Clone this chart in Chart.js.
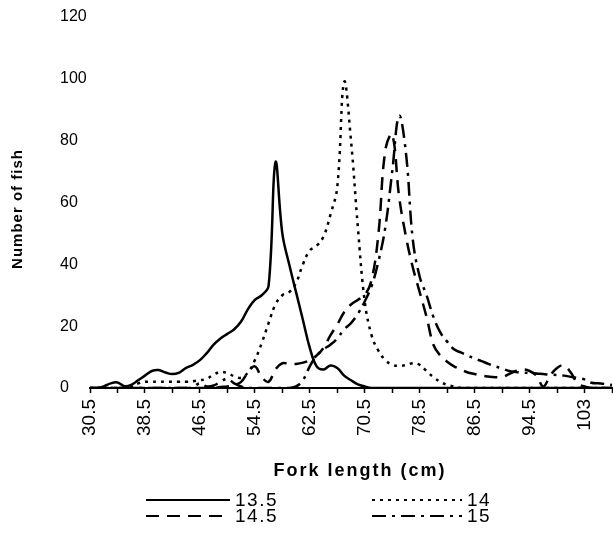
<!DOCTYPE html>
<html>
<head>
<meta charset="utf-8">
<script src="https://cdn.jsdelivr.net/npm/chart.js@4.4.1/dist/chart.umd.min.js"></script>
<style>
  html, body { margin: 0; padding: 0; background: #fff; overflow: hidden; }
  #wrap { position: relative; width: 613px; height: 538px; }
</style>
</head>
<body>
<div id="wrap"><canvas id="chart" width="613" height="538"></canvas></div>
<script>
// Fork length classes (cm), one category per centimetre
const forkLength = [
  30.5, 31.5, 32.5, 33.5, 34.5, 35.5, 36.5, 37.5, 38.5, 39.5,
  40.5, 41.5, 42.5, 43.5, 44.5, 45.5, 46.5, 47.5, 48.5, 49.5,
  50.5, 51.5, 52.5, 53.5, 54.5, 55.5, 56.5, 57.5, 58.5, 59.5,
  60.5, 61.5, 62.5, 63.5, 64.5, 65.5, 66.5, 67.5, 68.5, 69.5,
  70.5, 71.5, 72.5, 73.5, 74.5, 75.5, 76.5, 77.5, 78.5, 79.5,
  80.5, 81.5, 82.5, 83.5, 84.5, 85.5, 86.5, 87.5, 88.5, 89.5,
  90.5, 91.5, 92.5, 93.5, 94.5, 95.5, 96.5, 97.5, 98.5, 99.5,
  100.5, 101.5, 102.5, 103.5, 104.5, 105.5, 106.5
];

// Labels printed under the axis (every eighth class)
const axisLabels = ['30.5', '38.5', '46.5', '54.5', '62.5', '70.5', '78.5', '86.5', '94.5', '103'];

// Number of fish per length class
const fish13_5 = [
  0, 0, 0.5, 1.5, 1.8, 0.6, 1, 2.5, 4, 5.5,
  5.8, 5, 4.5, 5, 6.5, 7.5, 9, 11.3, 14, 16,
  17.5, 19, 21.5, 25.5, 28.5, 30, 33, 73, 50, 40,
  31, 22, 13, 7, 6, 7.3, 6.5, 4, 2.5, 1.2,
  0.5, 0, 0, 0, 0, 0, 0, 0, 0, 0,
  0, 0, 0, 0, 0, 0, 0, 0, 0, 0,
  0, 0, 0, 0, 0, 0, 0, 0, 0, 0,
  0, 0, 0, 0, 0, 0, 0
];
const fish14 = [
  0, 0, 0, 0, 0, 0, 0.5, 1.5, 2, 2,
  2, 2, 2, 2, 2, 2.2, 2.5, 3, 4.3, 5.2,
  4.8, 3.8, 3.3, 5, 9, 14.5, 21, 27, 30, 31,
  34, 40, 44.5, 46, 49, 56, 65, 99, 80, 52,
  28, 17, 12, 9, 7.5, 7.2, 7.4, 8, 7.5, 5.5,
  3.5, 2, 1, 0.5, 0, 0, 0, 0, 0, 0,
  0, 0, 0, 0, 0, 0, 0, 0, 0, 0,
  0, 0, 0, 0, 0, 0, 0
];
const fish14_5 = [
  0, 0, 0, 0, 0, 0, 0, 0, 0, 0,
  0, 0, 0, 0, 0, 0, 0, 0, 0, 0.3,
  0.5, 1, 2, 5, 7, 3.5, 2, 6, 8, 7.8,
  7.8, 8.2, 9, 10.5, 13, 17, 20.5, 24.5, 27, 28.5,
  30, 35, 50, 77, 82, 62, 49, 39, 31, 23,
  14, 10.5, 8.5, 7, 6, 5, 4.5, 4, 3.7, 3.5,
  3.5, 4.5, 5.5, 6, 5.5, 4, 0.5, 4, 6.5, 7.3,
  5, 1.5, 0.5, 0, 0, 0, 0
];
const fish15 = [
  0, 0, 0, 0, 0, 0, 0, 0, 0, 0,
  0, 0, 0, 0, 0, 0.3, 1.5, 0.5, 0.8, 2,
  3, 1.5, 0.5, 0, 0, 0, 0, 0, 0, 0,
  0.5, 2.5, 7, 10.5, 12.5, 14, 16, 19, 21, 24,
  28, 33, 41, 52, 70, 88, 76, 48, 36, 30,
  23, 18, 15, 12.5, 11.5, 10.5, 9.5, 8.7, 7.8, 7,
  6.3, 5.5, 5.2, 5, 4.8, 4.7, 4.5, 4.3, 4.2, 4,
  3.6, 3.2, 2.8, 1.7, 1.5, 1.3, 1
];

const seriesNames = ['13.5', '14', '14.5', '15'];

const INK = '#000';
const FONT = "'Liberation Sans', Arial, sans-serif";

function lineSet(label, data, dash) {
  return {
    label, data,
    borderColor: INK,
    borderWidth: 2.5,
    borderDash: dash,
    pointRadius: 0,
    pointHoverRadius: 0,
    fill: false,
    tension: 0.4,
    cubicInterpolationMode: 'default'
  };
}

function spacedText(ctx, text, x, y, spacing) {
  ctx.letterSpacing = spacing + 'px';
  ctx.fillText(text, x, y);
  ctx.letterSpacing = '0px';
}

// Axis titles and the two-column key under the plot
const extras = {
  id: 'extras',
  afterDraw(chart) {
    const ctx = chart.ctx;

    ctx.save();
    ctx.fillStyle = INK;
    ctx.font = `bold 15px ${FONT}`;
    ctx.translate(18, 209);
    ctx.rotate(-Math.PI / 2);
    ctx.textAlign = 'center';
    ctx.textBaseline = 'middle';
    spacedText(ctx, 'Number of fish', 0, 0, 1);
    ctx.restore();

    ctx.save();
    ctx.fillStyle = INK;
    ctx.font = `bold 18px ${FONT}`;
    ctx.textAlign = 'center';
    ctx.textBaseline = 'middle';
    spacedText(ctx, 'Fork length (cm)', 360, 471, 2);
    ctx.restore();

    // key: [x of sample start, sample length, y]
    const slots = [[146, 84, 500], [372, 90, 500], [146, 84, 516], [372, 90, 516]];
    chart.data.datasets.forEach((ds, i) => {
      const [x, len, y] = slots[i];
      ctx.save();
      ctx.strokeStyle = INK;
      ctx.lineWidth = 2.2;
      ctx.setLineDash(ds.borderDash || []);
      ctx.beginPath();
      ctx.moveTo(x, y);
      ctx.lineTo(x + len, y);
      ctx.stroke();
      ctx.setLineDash([]);
      ctx.fillStyle = INK;
      ctx.font = `19px ${FONT}`;
      ctx.textBaseline = 'middle';
      ctx.textAlign = 'left';
      spacedText(ctx, ds.label, x + len + 5, y + 1, 1.5);
      ctx.restore();
    });
  }
};

new Chart(document.getElementById('chart'), {
  type: 'line',
  data: {
    labels: forkLength,
    datasets: [
      lineSet(seriesNames[0], fish13_5, []),
      lineSet(seriesNames[1], fish14, [3, 5]),
      lineSet(seriesNames[2], fish14_5, [13, 8]),
      lineSet(seriesNames[3], fish15, [14, 6, 3, 6])
    ]
  },
  options: {
    responsive: false,
    animation: false,
    devicePixelRatio: 1,
    layout: { padding: { left: 60, right: 1, top: 17, bottom: 0 } },
    plugins: {
      legend: { display: false },
      tooltip: { enabled: false }
    },
    scales: {
      x: {
        type: 'category',
        offset: false,
        afterFit(scale) {
          scale.height = 150;
          scale.paddingLeft = 0;
          scale.paddingRight = 0;
        },
        border: { display: true, color: INK, width: 2 },
        grid: {
          drawOnChartArea: false,
          drawTicks: true,
          tickLength: 5,
          tickWidth: 1.5,
          tickColor: (c) => (c.index % 4 === 0 ? INK : 'rgba(0,0,0,0)')
        },
        ticks: {
          autoSkip: false,
          maxRotation: 90,
          minRotation: 90,
          padding: 6,
          color: INK,
          font: { family: FONT, size: 19 },
          callback: (v, i) => (i % 8 === 0 ? (axisLabels[i / 8] || '') : '')
        }
      },
      y: {
        min: 0,
        max: 120,
        afterFit(scale) { scale.width = 30; },
        border: { display: false },
        grid: { display: false, drawTicks: false },
        ticks: {
          stepSize: 20,
          crossAlign: 'far',
          padding: 0,
          color: INK,
          font: { family: FONT, size: 16 }
        }
      }
    }
  },
  plugins: [extras]
});
</script>
</body>
</html>
